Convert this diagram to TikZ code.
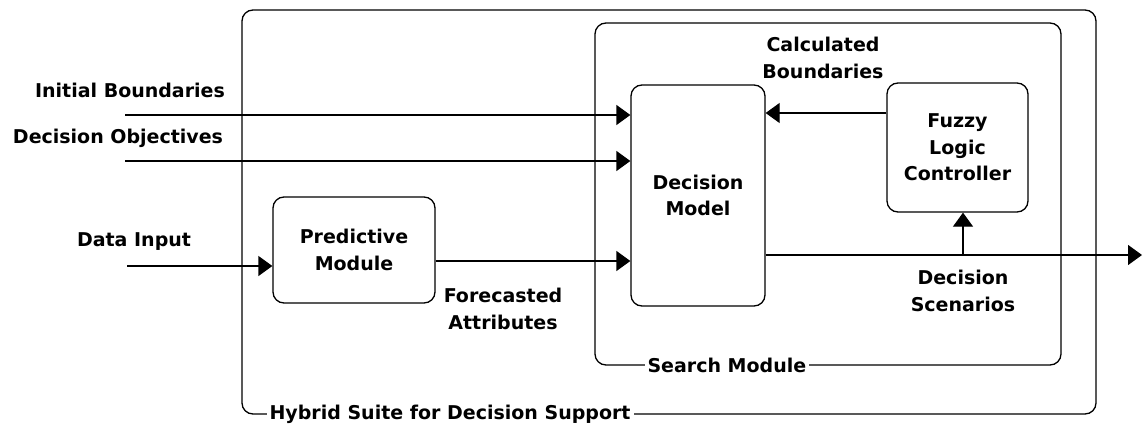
\documentclass[tikz,border=0pt]{standalone}
\usepackage{fontspec}
\setmainfont{DejaVu Sans}
\usepackage{tikz}
\usetikzlibrary{positioning, arrows.meta, calc}
\definecolor{suite-ink}{HTML}{000000}

\tikzset{
    box/.style={draw=suite-ink, line width=1.3pt, rounded corners=11pt},
    txt/.style={font=\bfseries\fontsize{19}{26.5}\selectfont, align=center, text=suite-ink},
    boxname/.style={txt, fill=white, anchor=west, inner xsep=3pt, inner ysep=0pt},
    flow/.style={draw=suite-ink, line width=1.3pt, -{Triangle[length=14pt, width=20pt]}}
}

\begin{document}
\begin{tikzpicture}[x=1pt, y=-1pt]
    \useasboundingbox (0,0) rectangle (1143,423);

    % frames
    \node[box, minimum width=854pt, minimum height=404pt] (suite) at (669,212) {};
    \node[box, minimum width=466pt, minimum height=342pt] (search) at (828,194) {};
    \node[boxname] (suitename) at ($(suite.south west)+(25,0)$) {Hybrid Suite for Decision Support};
    \node[boxname] (searchname) at ($(search.south west)+(50,0)$) {Search Module};

    % modules
    \node[box, txt, minimum width=134pt, minimum height=221pt] (model) at (698,195.5) {Decision\\Model};
    \node[box, txt, minimum width=141pt, minimum height=129pt] (fuzzy) at (957.5,147.5) {Fuzzy\\Logic\\Controller};
    \node[box, txt, minimum width=162pt, minimum height=106pt] (predict) at (354,250) {Predictive\\Module};

    % texts
    \node[txt] (initialtxt) at (130,90) {Initial Boundaries};
    \node[txt] (objectivetxt) at (118,138) {Decision Objectives};
    \node[txt] (datatxt) at (134,242) {Data Input};
    \node[txt] (forecasttxt) at (503,309) {Forecasted\\Attributes};
    \node[txt] (calctxt) at (823,58) {Calculated\\Boundaries};
    \node[txt] (scenariotxt) at (963,291) {Decision\\Scenarios};

    % connectors
    \coordinate (initial) at (125,115);
    \coordinate (objective) at (125,161);
    \coordinate (datain) at (127,266);
    \coordinate (branch) at (963,255);
    \coordinate (result) at (1142,255);

    \draw[flow] (initial) -- (initial -| model.west);
    \draw[flow] (objective) -- (objective -| model.west);
    \draw[flow] (datain) -- (datain -| predict.west);
    \draw[flow] ([yshift=-11pt]predict.east) -- ([yshift=-11pt]predict.east -| model.west);
    \draw[flow] ([yshift=34.5pt]fuzzy.west) -- ([yshift=34.5pt]fuzzy.west -| model.east);
    \draw[flow] (result -| model.east) -- (result);
    \draw[flow] (branch) -- (branch |- fuzzy.south);
\end{tikzpicture}
\end{document}
